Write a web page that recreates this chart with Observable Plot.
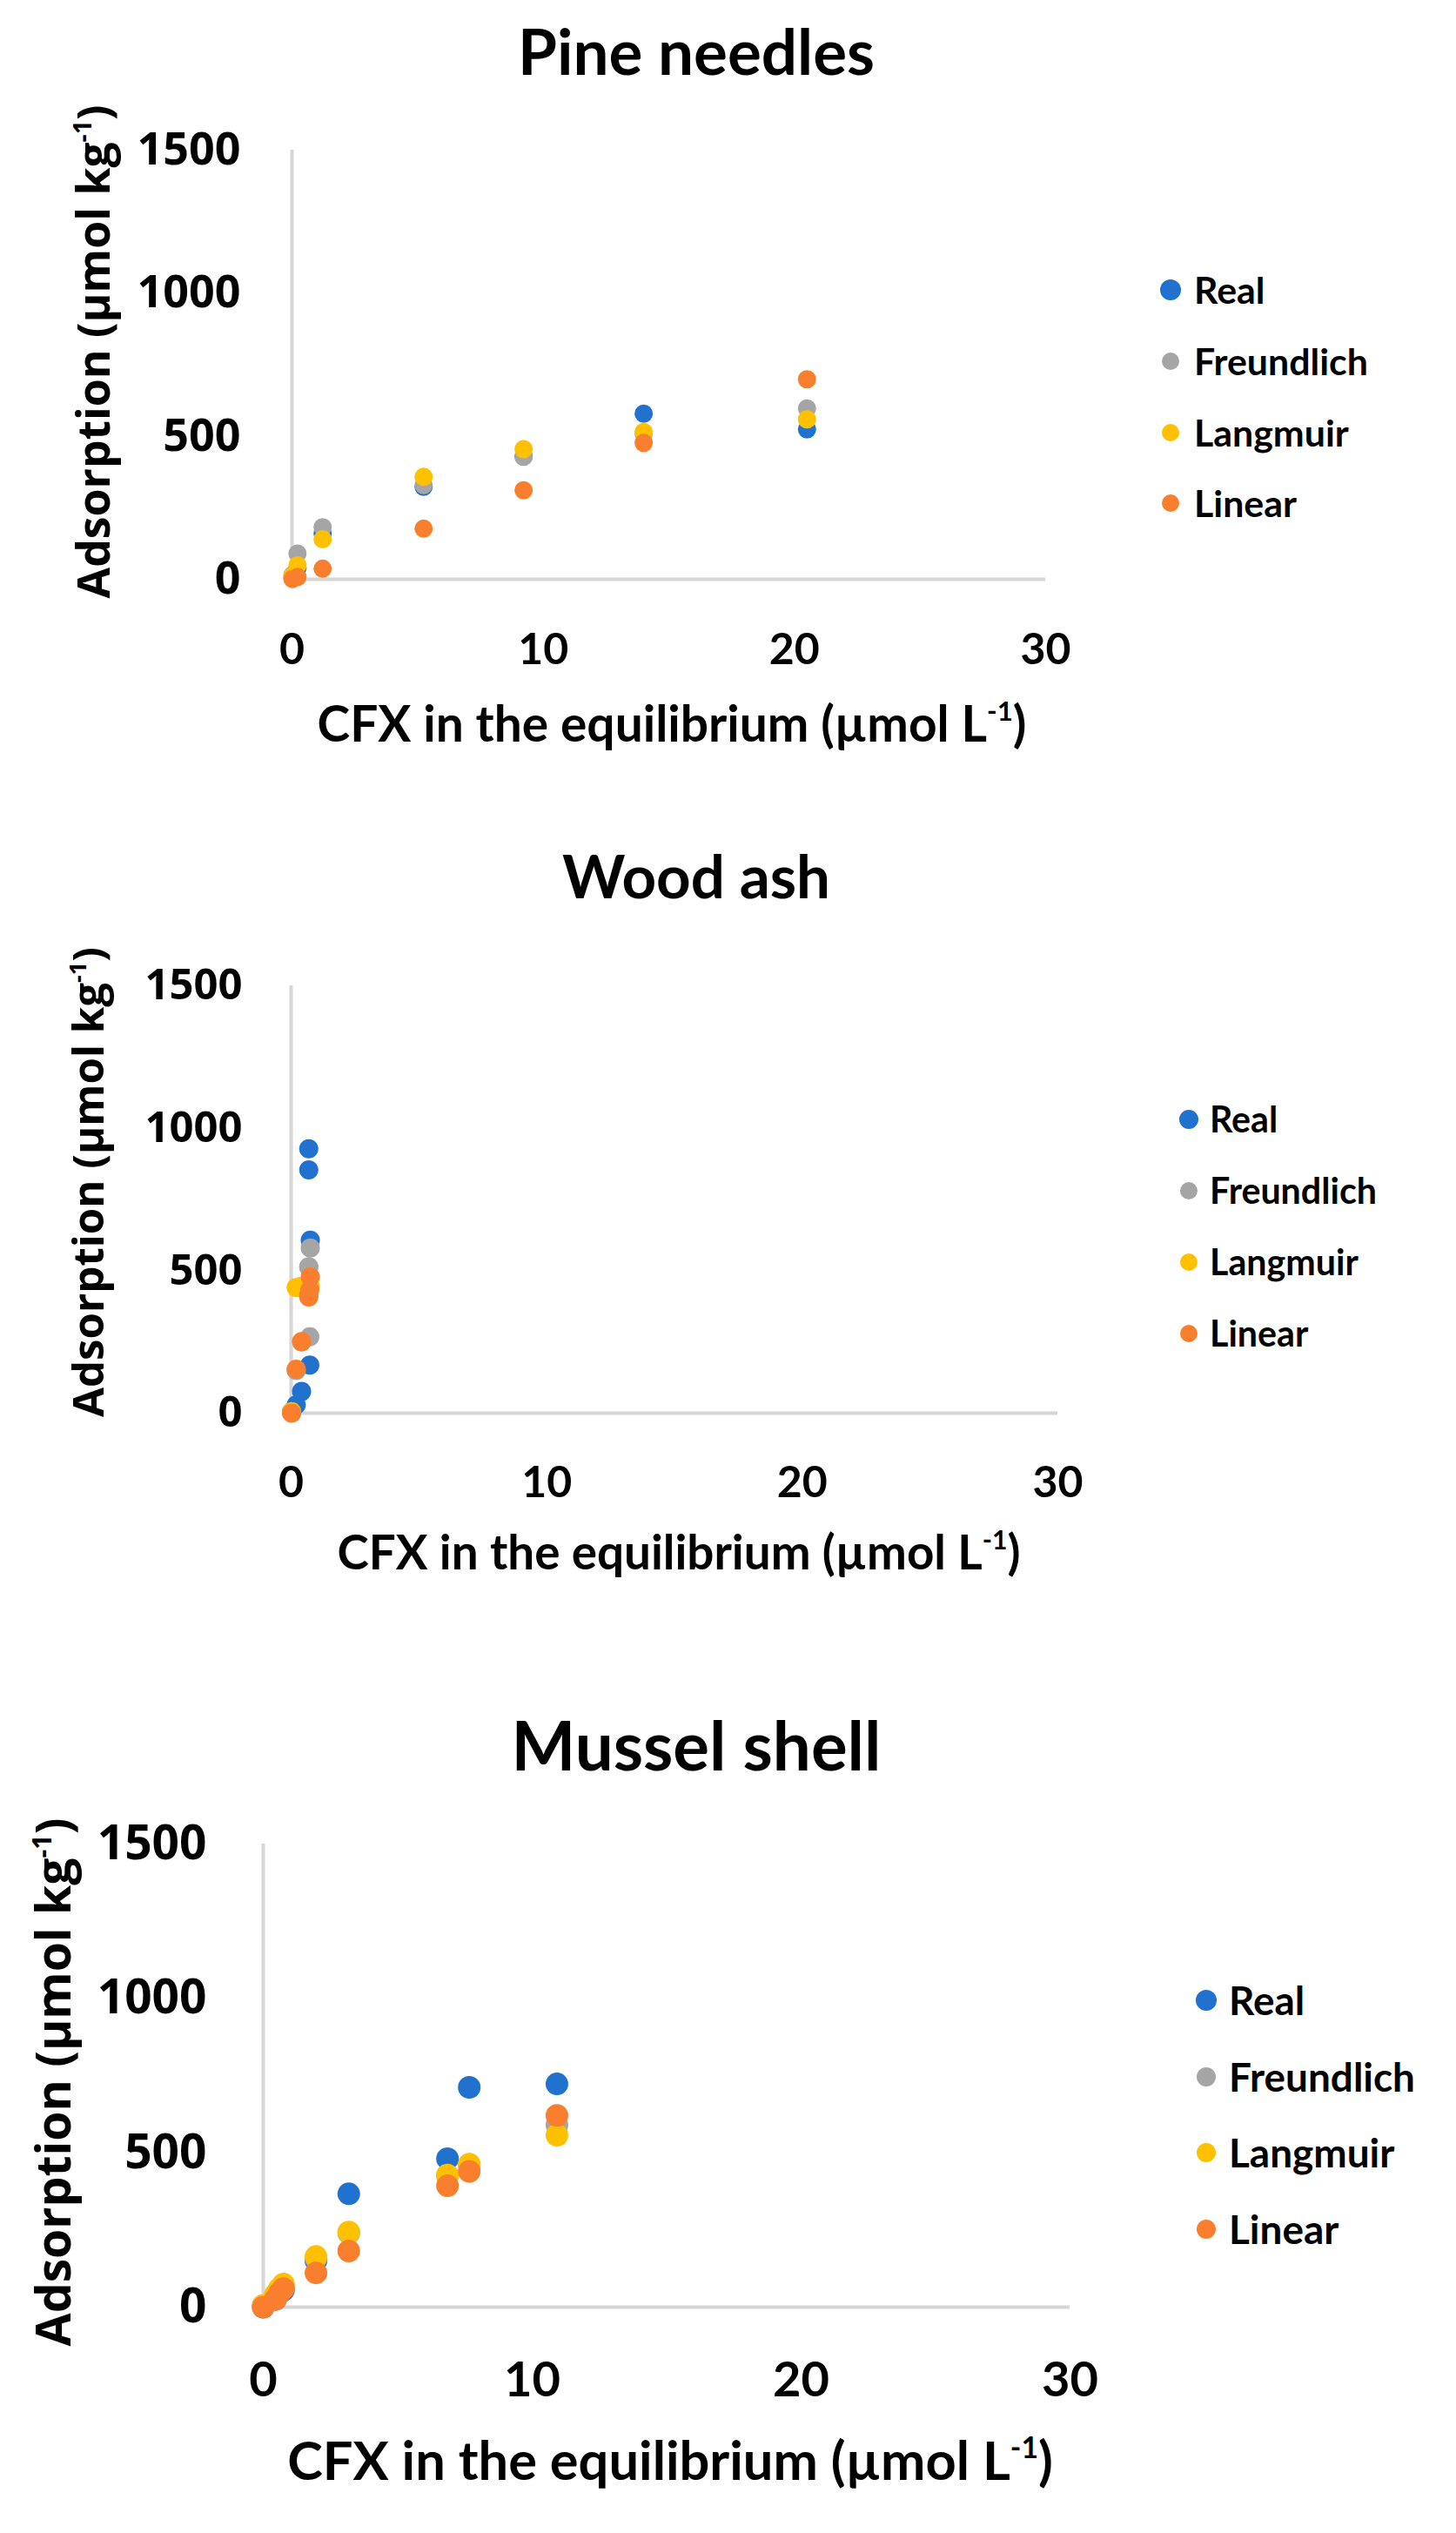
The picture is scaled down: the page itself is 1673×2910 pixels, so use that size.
<!DOCTYPE html>
<html><head><meta charset="utf-8">
<script src="https://cdn.jsdelivr.net/npm/d3@7"></script>
<script src="https://cdn.jsdelivr.net/npm/@observablehq/plot@0.6"></script>
<style>
body{margin:0;background:#fff;}
#root{position:relative;width:1673px;height:2910px;overflow:hidden;background:#fff;}
.t{position:absolute;white-space:nowrap;font-weight:700;color:#000;line-height:1;}
.t sup{font-size:0.55em;vertical-align:0.75em;line-height:0;}
.ld{position:absolute;border-radius:50%;}
</style></head><body><div id="root"></div>
<script>
// ---------- data ----------
const series = ["Real", "Freundlich", "Langmuir", "Linear"];
const seriesColors = ["#2171CE", "#A5A5A5", "#FFC000", "#F97F2F"];
const xTicks = [0, 10, 20, 30];
const yTicks = [0, 500, 1000, 1500];
const panelTitles = ["Pine needles", "Wood ash", "Mussel shell"];
const xAxisTitle = "CFX in the equilibrium (µmol L<sup>-1</sup>)";
const yAxisTitle = "Adsorption (µmol kg<sup>-1</sup>)";

// Pine needles
const pineX          = [0.02, 0.22, 1.22, 5.24, 9.22, 14.0, 20.5];
const pineReal       = [5, 40, 160, 323, 430, 579, 524];
const pineFreundlich = [15, 90, 182, 329, 428, 509, 597];
const pineLangmuir   = [12, 49, 140, 358, 455, 515, 559];
const pineLinear     = [1, 8, 37, 177, 311, 477, 699];

// Wood ash
const woodX          = [0.02, 0.2, 0.41, 0.73, 0.75, 0.69, 0.69];
const woodReal       = [5, 29, 76, 169, 607, 854, 928];
const woodFreundlich = [3, 150, 250, 268, 580, 513, 513];
const woodLangmuir   = [5, 441, 445, 446, 447, 445, 445];
const woodLinear     = [0, 154, 251, 432, 478, 408, 415];

// Mussel shell
const musselX          = [0.0, 0.45, 0.6, 0.75, 1.96, 3.18, 6.85, 7.66, 10.92];
const musselReal       = [0, 25, 45, 55, 150, 367, 481, 712, 723];
const musselFreundlich = [5, 35, 55, 70, 158, 240, 425, 460, 590];
const musselLangmuir   = [5, 40, 60, 75, 164, 243, 428, 463, 557];
const musselLinear     = [0, 25, 45, 60, 111, 182, 393, 440, 621];

// ---------- layout ----------
const root = document.getElementById("root");

function rows(xs, lists) {
  const out = [];
  series.forEach((s, k) => lists[k].forEach((y, i) => out.push({x: xs[i], y, series: s})));
  return out;
}

function addText(html, family, opts) {
  const el = document.createElement("div");
  el.className = "t";
  el.innerHTML = html;
  el.style.fontFamily = family;
  el.style.fontSize = "100px";
  root.appendChild(el);
  const w = el.getBoundingClientRect().width;
  const fs = opts.size ? opts.size : 100 * opts.width / w;
  el.style.fontSize = fs + "px";
  el.style.left = opts.x + "px";
  el.style.top = opts.y + "px";
  if (opts.anchor === "left") {
    el.style.transform = "translate(0,-50%)";
  } else {
    el.style.transform = "translate(-50%,-50%)" + (opts.rotate ? " rotate(-90deg)" : "");
  }
  return fs;
}

const panels = [
  {data: rows(pineX, [pineReal, pineFreundlich, pineLangmuir, pineLinear]),
   top: 0, left: 335, right: 1201, y1500: 172, y0: 665, r: 10.5,
   yTickSize: 52, yPad: 59, xTickSize: 50, xPad: 62,
   title: {x: 800, y: 58, w: 410},
   xt: {x: 772, y: 830, w: 815}, yt: {x: 107, y: 404, w: 567},
   leg: {dx: 1345, tx: 1372, ys: [333, 415, 497, 578], w: 200, r: [12, 10, 10, 10]}},
  {data: rows(woodX, [woodReal, woodFreundlich, woodLangmuir, woodLinear]),
   top: 1000, left: 334, right: 1215, y1500: 1132, y0: 1623, r: 11,
   yTickSize: 49, yPad: 56, xTickSize: 50, xPad: 61,
   title: {x: 800, y: 1006, w: 308},
   xt: {x: 780, y: 1782, w: 785}, yt: {x: 100, y: 1358, w: 540},
   leg: {dx: 1366, tx: 1390, ys: [1286, 1368, 1450, 1532], w: 192, r: [11, 10, 10, 10]}},
  {data: rows(musselX, [musselReal, musselFreundlich, musselLangmuir, musselLinear]),
   top: 2000, left: 302, right: 1229, y1500: 2118, y0: 2650, r: 13,
   yTickSize: 55, yPad: 65, xTickSize: 56, xPad: 63,
   title: {x: 800, y: 2004, w: 425},
   xt: {x: 770, y: 2826, w: 880}, yt: {x: 60, y: 2392, w: 607},
   leg: {dx: 1386, tx: 1412, ys: [2298, 2386, 2473, 2561], w: 214, r: [12, 11, 11, 11]}}
];

panels.forEach((p, pi) => {
  const marginBottom = 140;
  const height = (p.y0 - p.top) + marginBottom;
  const chart = Plot.plot({
    width: 1673,
    height,
    marginLeft: p.left,
    marginRight: 1673 - p.right,
    marginTop: p.y1500 - p.top,
    marginBottom,
    x: {domain: [0, 30]},
    y: {domain: [0, 1500]},
    color: {domain: series, range: seriesColors},
    style: {background: "transparent", color: "#000", overflow: "visible"},
    marks: [
      Plot.axisY(yTicks, {tickSize: 0, tickPadding: p.yPad, tickFormat: d => String(d), fontSize: p.yTickSize, fontFamily: "Open Sans", fontWeight: "bold", label: null, fill: "#000"}),
      Plot.axisX(xTicks, {tickSize: 0, tickPadding: p.xPad, tickFormat: d => String(d), fontSize: p.xTickSize, fontFamily: "Lato", fontWeight: "bold", label: null, fill: "#000"}),
      Plot.ruleX([0], {y1: 0, y2: 1500, stroke: "#D6D6D6", strokeWidth: 4}),
      Plot.ruleY([0], {x1: 0, x2: 30, stroke: "#D6D6D6", strokeWidth: 4}),
      Plot.dot(p.data, {x: "x", y: "y", fill: "series", r: p.r, stroke: null})
    ]
  });
  chart.style.position = "absolute";
  chart.style.left = "0px";
  chart.style.top = p.top + "px";
  root.appendChild(chart);

  addText(panelTitles[pi], "Lato", {x: p.title.x, y: p.title.y, width: p.title.w});
  addText(xAxisTitle, "Lato", {x: p.xt.x, y: p.xt.y, width: p.xt.w});
  addText(yAxisTitle, "Open Sans", {x: p.yt.x, y: p.yt.y, width: p.yt.w, rotate: true});

  // legend
  const probe = document.createElement("div");
  probe.className = "t"; probe.style.fontFamily = "Lato"; probe.style.fontSize = "100px";
  probe.textContent = series[1];
  root.appendChild(probe);
  const fs = 100 * p.leg.w / probe.getBoundingClientRect().width;
  root.removeChild(probe);
  series.forEach((s, k) => {
    const d = document.createElement("div");
    d.className = "ld";
    const r = p.leg.r[k];
    d.style.width = d.style.height = (2 * r) + "px";
    d.style.left = (p.leg.dx - r) + "px";
    d.style.top = (p.leg.ys[k] - r) + "px";
    d.style.background = seriesColors[k];
    root.appendChild(d);
    addText(s, "Lato", {x: p.leg.tx, y: p.leg.ys[k], size: fs, anchor: "left"});
  });
});
</script>
</body></html>
